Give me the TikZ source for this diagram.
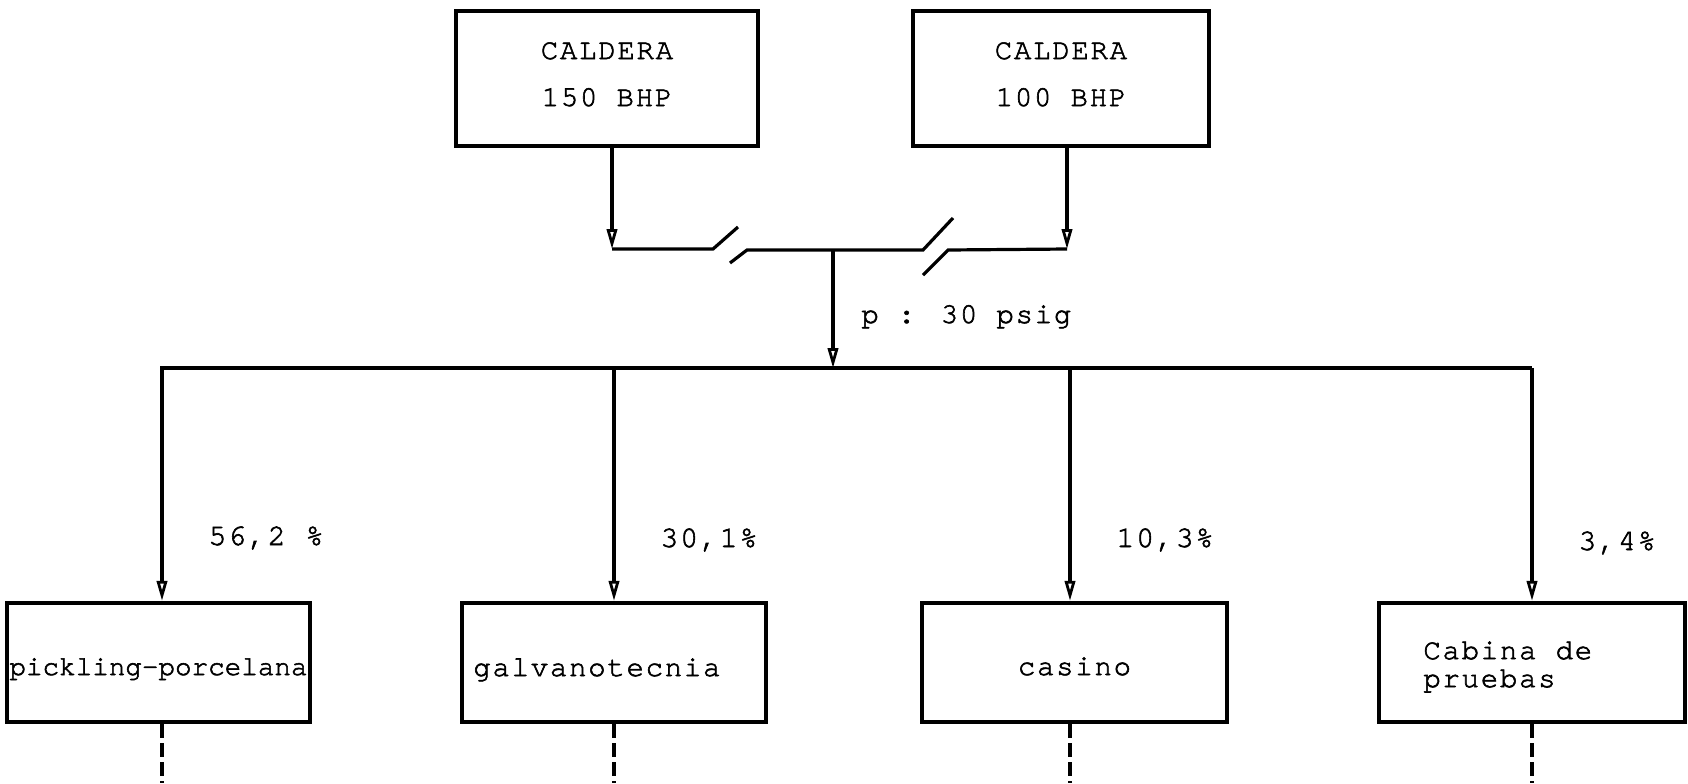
\documentclass[tikz,border=0pt]{standalone}
\usepackage{fontspec}
\usetikzlibrary{arrows.meta}
% typewriter faces: spaced for labels, plain for the long name
\newfontfamily\tw{texgyrecursor-regular.otf}[LetterSpace=6, FakeBold=2]
\newfontfamily\twn{texgyrecursor-regular.otf}[FakeBold=2]
\begin{document}
\begin{tikzpicture}[x=0.5pt,y=-0.5pt,
  box/.style={draw, line width=2.2pt, inner sep=0pt},
  lowbox/.style={box, minimum height=59.5pt},
  topbox/.style={box, minimum height=67.5pt},
  txt/.style={anchor=base, inner sep=0pt, font=\fontsize{14.5}{16}\tw},
  txtw/.style={txt, anchor=base west},
  pipe/.style={line width=1.6pt, line join=miter},
  feed/.style={pipe, -{Triangle[open, length=10pt, width=5.2pt, line width=1.4pt]}},
  tail/.style={line width=1.7pt, dash pattern=on 7pt off 2.5pt},
  pct/.style={txtw, font=\fontsize{15}{16}\tw}]
\useasboundingbox (0,0) rectangle (1688,783);

% boilers
\node[topbox, minimum width=151pt] (b1) at (607,78.5) {};
\node[txt] (b1a) at (607,59) {CALDERA};
\node[txt] (b1b) at (607,106) {150 BHP};
\node[topbox, minimum width=148pt] (b2) at (1061,78.5) {};
\node[txt] (b2a) at (1061,59) {CALDERA};
\node[txt] (b2b) at (1061,106) {100 BHP};

% header junctions
\coordinate (h1) at (612,249);
\coordinate (h2) at (1067,249);
\coordinate (hc) at (833,250);

\draw[feed] (b1.south -| h1) -- (h1);
\draw[feed] (b2.south -| h2) -- (h2);

% header with the two break marks
\draw[pipe] (h1) -- (713,249) -- (738,227);
\draw[pipe] (730,263) -- (747,250) -- (hc) -- (923,250) -- (953,218);
\draw[pipe] (923,275) -- (948,250) -- (h2);

% distribution main
\coordinate (d0) at (160,368);
\coordinate (dc) at (833,368);
\coordinate (d1) at (162,368);
\coordinate (d2) at (614,368);
\coordinate (d3) at (1070,368);
\coordinate (d4) at (1532,368);

\draw[feed] (hc) -- (dc);
\node[txtw] (press) at (861,323) {p : 30 psig};
\draw[pipe] (d0) -- (d4);

% consumers
\node[lowbox, minimum width=151.5pt] (c1) at (158.5,662.5) {};
\node[txt, font=\fontsize{13.8}{16}\twn] (c1t) at (158.5,675) {pickling-porcelana};
\node[lowbox, minimum width=152pt] (c2) at (614,662.5) {};
\node[txtw] (c2t) at (473,676) {galvanotecnia};
\node[lowbox, minimum width=152.5pt] (c3) at (1074.5,662.5) {};
\node[txt] (c3t) at (1074.5,675) {casino};
\node[lowbox, minimum width=153pt] (c4) at (1532,662.5) {};
\node[txt, anchor=north west, align=left, font=\fontsize{14.5}{14}\tw] (c4t)
  at (1423,641) {Cabina de\\pruebas};

\foreach \d/\c in {d1/c1, d2/c2, d3/c3, d4/c4}
  \draw[feed] (\d) -- (\d |- \c.north);

% shares
\node[pct] (p1) at (208,545) {56,2 \%};
\node[pct] (p2) at (660,547) {30,1\%};
\node[pct] (p3) at (1116,547) {10,3\%};
\node[pct] (p4) at (1578,550) {3,4\%};

% continuations below the consumers
\foreach \d/\c/\e in {d1/c1/e1, d2/c2/e2, d3/c3/e3, d4/c4/e4} {
  \coordinate (\e) at (\d |- 0,783);
  \draw[tail] (\d |- \c.south) -- (\e);
}
\end{tikzpicture}
\end{document}
